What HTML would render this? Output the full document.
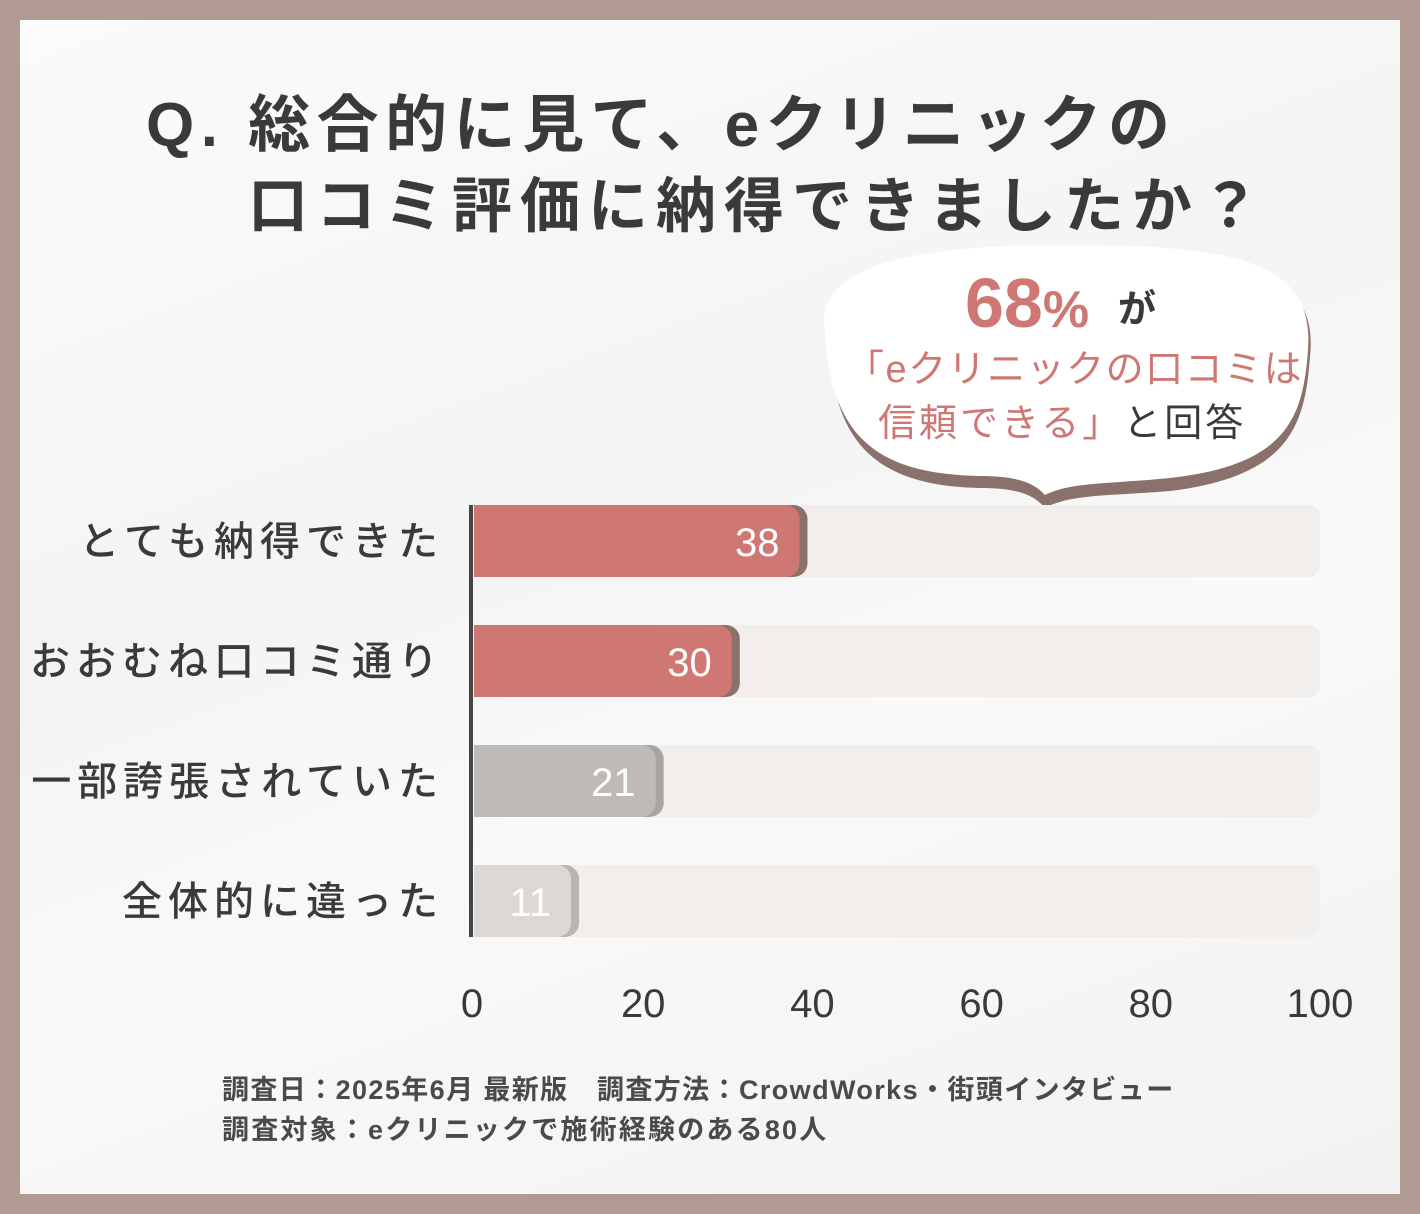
<!DOCTYPE html>
<html><head><meta charset="utf-8">
<style>
body{margin:0;width:1420px;height:1214px;background:#b09a92;font-family:"Liberation Sans","Noto Sans CJK JP",sans-serif;overflow:hidden}
#card{position:absolute;left:20px;top:20px;width:1380px;height:1174px;background:linear-gradient(160deg,#fbfbfb 0%,#f4f4f4 40%,#f9f9f9 60%,#f2f2f2 100%)}
.t{position:absolute;white-space:nowrap;color:#3a3a3a}
</style></head><body>
<div id="card"></div>
<div class="t" style="left:146px;top:74px;font-size:62px;font-weight:bold;letter-spacing:6.5px">Q. 総合的に見て、eクリニックの</div>
<div class="t" style="left:248px;top:158px;font-size:60px;font-weight:bold;letter-spacing:8px">口コミ評価に納得できましたか？</div>
<svg width="1420" height="1214" style="position:absolute;left:0;top:0" id="chart">
<g>
<path d="M830,330 C820,270 900,245 1060,245 C1230,245 1320,260 1310,350 C1305,420 1290,470 1170,485 C1110,490 1070,488 1045,502 C1035,490 1020,482 980,482 C880,480 830,440 830,330 Z" fill="#8a716b" transform="translate(0,6)"/>
<path d="M825,330 C815,270 900,245 1060,245 C1230,245 1315,258 1308,350 C1303,420 1285,465 1170,478 C1110,484 1070,482 1045,495 C1035,484 1020,476 980,476 C880,474 830,440 825,330 Z" fill="#fff"/>
<circle cx="989" cy="520" r="11" fill="#9a8a86"/><circle cx="989" cy="518" r="10" fill="#fff"/>
<circle cx="960" cy="544" r="5" fill="#9a8a86"/><circle cx="960" cy="543" r="4.5" fill="#fff"/>
</g>
<text x="965" y="327" font-size="70" font-weight="bold" fill="#cf7873">68<tspan font-size="52">%</tspan></text>
<text x="1118" y="322" font-size="38" font-weight="bold" fill="#3a3a3a">が</text>
<text x="846" y="382" font-size="38" fill="#cf7873" letter-spacing="1.5">「eクリニックの口コミは</text>
<text x="878" y="436" font-size="38" fill="#cf7873" letter-spacing="3">信頼できる」<tspan fill="#3a3a3a">と回答</tspan></text>
<g id="bars"></g>
</svg>
<div class="t" style="left:222px;top:1068px;font-size:27px;font-weight:bold;color:#4a4a4a;letter-spacing:1.4px">調査日：2025年6月 最新版　調査方法：CrowdWorks・街頭インタビュー</div>
<div class="t" style="left:222px;top:1108px;font-size:27px;font-weight:bold;color:#4a4a4a;letter-spacing:2.2px">調査対象：eクリニックで施術経験のある80人</div>
<script>
const categories=["とても納得できた","おおむね口コミ通り","一部誇張されていた","全体的に違った"];
const values=[38,30,21,11];
const barColors=["#cf7873","#cf7873","#bfbab8","#dcd8d6"];
const shadowColors=["#8a716b","#8a716b","#a9a4a2","#b9b5b3"];
const ticks=[0,20,40,60,80,100];
const NS="http://www.w3.org/2000/svg";
const g=document.getElementById("bars");
const x0=474,x1=1320;
function xs(v){return x0+(v/100)*(x1-x0);}
const rowTop=505,rowStep=120,barH=72;
function ys(i){return rowTop+i*rowStep;}
function mk(tag,attrs){const e=document.createElementNS(NS,tag);for(const k in attrs)e.setAttribute(k,attrs[k]);g.appendChild(e);return e;}
categories.forEach((c,i)=>{
  const y=ys(i);
  const tr=mk("rect",{x:x0,y:y,width:xs(100)-x0,height:barH,rx:12,fill:"#f1eeec"});
  
  
  const sh=mk("rect",{x:x0,y:y,width:xs(values[i])-x0+12,height:barH,rx:14,fill:shadowColors[i]});
  
  
  const b=mk("rect",{x:x0,y:y,width:xs(values[i])-x0+4,height:barH,rx:14,fill:barColors[i]});
  
  
  const sq=mk("rect",{x:x0,y:y,width:20,height:barH,fill:barColors[i]});
  
  
  const vt=mk("text",{x:xs(values[i])-16,y:y+barH/2+15,"font-size":40,fill:"#fff","text-anchor":"end"});
  vt.textContent=values[i];
  
  
  const ct=mk("text",{x:444,y:y+barH/2+14,"font-size":40,fill:"#3a3a3a","text-anchor":"end","letter-spacing":6,"font-weight":"500"});
  ct.textContent=c;
  
  
});
const ax=mk("rect",{x:469,y:ys(0),width:4,height:ys(3)+barH-ys(0),fill:"#444"});


ticks.forEach(t=>{
  const tt=mk("text",{x:xs(t)-(t===0?2:0),y:1017,"font-size":40,fill:"#3a3a3a","text-anchor":"middle"});
  tt.textContent=t;
  
  
});
</script>
</body></html>
